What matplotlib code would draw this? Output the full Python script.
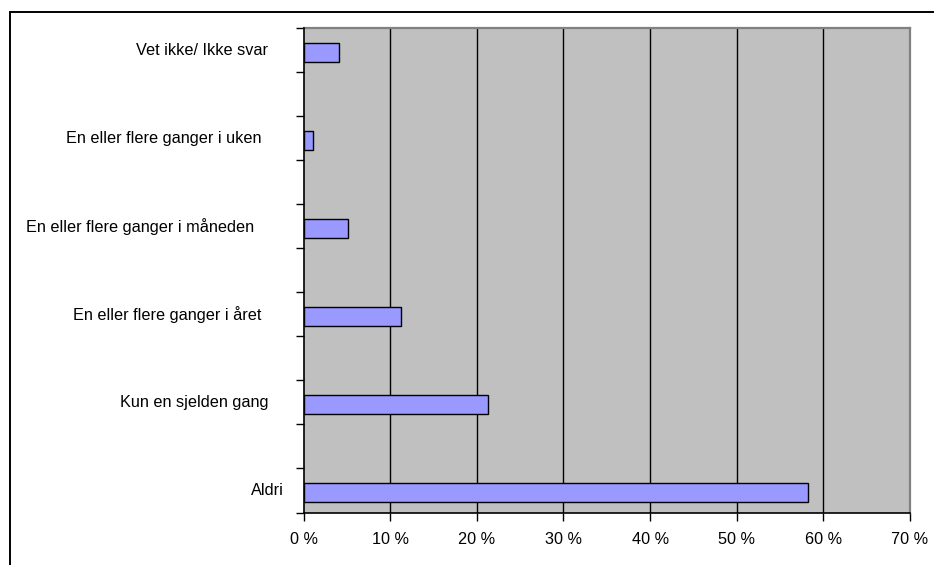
import matplotlib
matplotlib.use("Agg")
import matplotlib.pyplot as plt
from matplotlib.patches import Rectangle
from matplotlib.transforms import blended_transform_factory
import numpy as np

plt.rcParams['font.family'] = ['Liberation Sans', 'DejaVu Sans']

categories = [
    "Vet ikke/ Ikke svar",
    "En eller flere ganger i uken",
    "En eller flere ganger i måneden",
    "En eller flere ganger i året",
    "Kun en sjelden gang",
    "Aldri",
]
values = [4.1, 1.1, 5.1, 11.2, 21.3, 58.2]
x_ticks = [0, 10, 20, 30, 40, 50, 60, 70]
x_tick_labels = [f"{t} %" for t in x_ticks]

# right edge (in pixels) of each category label
label_right_px = [268, 261, 254, 261, 268, 284]

W, H = 934, 565
FS = 11.7
fig = plt.figure(figsize=(W / 100, H / 100), dpi=100)
fig.patch.set_facecolor("white")

# outer frame of the chart object (extends past the right and bottom edges)
fig.patches.append(Rectangle((10 / W, -0.1), 1.2, 1 - 12 / H + 0.1,
                             transform=fig.transFigure, fill=False,
                             edgecolor="black", linewidth=1.4, zorder=0))

left, right, top, bottom = 303.5 / W, 910 / W, 1 - 28 / H, 1 - 512.5 / H
ax = fig.add_axes([left, bottom, right - left, top - bottom])
ax.set_facecolor("#C0C0C0")

slots = 2 * len(categories) - 1
positions = np.arange(len(categories)) * 2 + 0.05

ax.barh(positions, values, height=0.44, color="#9999FF",
        edgecolor="black", linewidth=1.0, zorder=3)

ax.set_xlim(0, 70)
ax.set_ylim(slots - 0.5, -0.5)

ax.set_xticks(x_ticks)
ax.set_xticklabels(x_tick_labels, fontsize=FS)
ax.set_yticks(np.arange(-0.5, slots, 1.0))
ax.set_yticklabels([])
ax.tick_params(axis="x", direction="out", length=6, width=1, pad=8, color="black")
ax.tick_params(axis="y", direction="out", length=6, width=1, color="black")

for x in x_ticks[1:-1]:
    ax.axvline(x, color="black", linewidth=1.0, zorder=2)

for side in ("left", "bottom"):
    ax.spines[side].set_color("black")
    ax.spines[side].set_linewidth(1.2)
    ax.spines[side].set_zorder(4)
for side in ("top", "right"):
    ax.spines[side].set_color("#808080")
    ax.spines[side].set_linewidth(1.6)

label_tf = blended_transform_factory(fig.transFigure, ax.transData)
for cat, pos, rx in zip(categories, positions, label_right_px):
    ax.text(rx / W, pos - 0.05, cat, transform=label_tf,
            ha="right", va="center", fontsize=FS, color="black")

fig.savefig("out.png", dpi=100)
